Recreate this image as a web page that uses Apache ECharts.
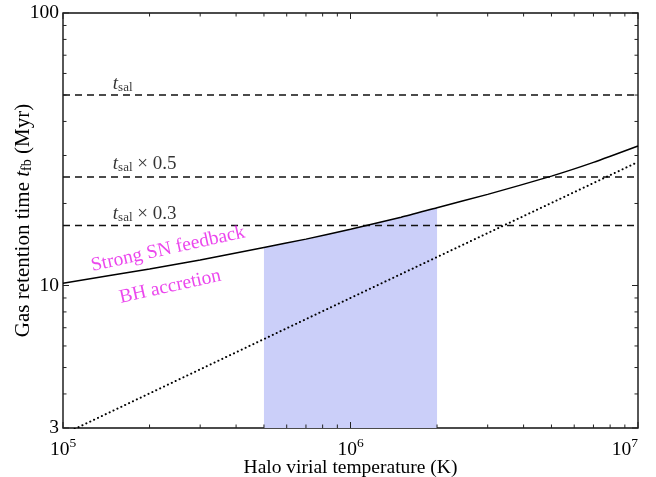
<!DOCTYPE html>
<html>
<head>
<meta charset="utf-8">
<script src="https://cdn.jsdelivr.net/npm/echarts@6/dist/echarts.min.js"></script>
<style>
html,body{margin:0;padding:0;background:#fff;}
#chart{width:656px;height:477px;}
</style>
</head>
<body>
<div id="chart"></div>
<script>
// ---- data ----
const xRange = [1e5, 1e7];
const yRange = [3, 100];
const temps = [1e5, 2e5, 3e5, 5e5, 7e5, 1e6, 1.5e6, 2e6, 3e6, 5e6, 7e6, 1e7];
const tFeedback = [10.2, 11.5, 12.4, 13.8, 14.8, 16.1, 17.8, 19.3, 21.6, 25.2, 28.3, 32.5];
const accretionTemps = [1e5, 1e6, 1e7];
const tAccretion = [2.84, 9.0, 28.4];
const salLevels = [50, 25, 16.6];
const salSuffix = ['', ' × 0.5', ' × 0.3'];
const bandRange = [5e5, 2e6];
const xMajorTicks = [1e5, 1e6, 1e7];
const xMinorTicks = [2e5, 3e5, 4e5, 5e5, 6e5, 7e5, 8e5, 9e5, 2e6, 3e6, 4e6, 5e6, 6e6, 7e6, 8e6, 9e6];
const yMajorTicks = [3, 10, 100];
const yMinorTicks = [4, 5, 6, 7, 8, 9, 20, 30, 40, 50, 60, 70, 80, 90];
const yTickLabels = ['3', '10', '100'];

// ---- chart ----
const FONT = '"Liberation Serif", "DejaVu Serif", serif';
const INK = '#000';
const MAGENTA = '#e619e8';

const feedbackData = temps.map((t, i) => [t, tFeedback[i]]);
const bandData = feedbackData.filter(p => p[0] >= bandRange[0] && p[0] <= bandRange[1]);
const accretionData = accretionTemps.map((t, i) => [t, tAccretion[i]]);

const xTickData = xMajorTicks.map(t => [t, 1]).concat(xMinorTicks.map(t => [t, 0]));
const yTickData = yMajorTicks.map(v => [v, 1]).concat(yMinorTicks.map(v => [v, 0]));
const MAJOR_LEN = 6, MINOR_LEN = 3.5;

const tickStyle = {stroke: '#222', lineWidth: 1};

const salSeries = salLevels.map((lv, i) => ({
  type: 'line', data: [[xRange[0], lv], [xRange[1], lv]], symbol: 'none', silent: true,
  lineStyle: {color: '#111', width: 1.4, type: [7, 5]}, z: 3
}));

const textRich = {
  it: {fontFamily: FONT, fontStyle: 'italic', fontSize: 19, color: INK, verticalAlign: 'bottom', lineHeight: 22},
  sub: {fontFamily: FONT, fontSize: 13, color: INK, verticalAlign: 'bottom', lineHeight: 16},
  n: {fontFamily: FONT, fontSize: 19, color: INK, verticalAlign: 'bottom', lineHeight: 22}
};

const annot = [
  {value: [1.49e5, 55.5], text: '{it|t}{sub|sal}' + (salSuffix[0] ? '{n|' + salSuffix[0] + '}' : '')},
  {value: [1.49e5, 28.2], text: '{it|t}{sub|sal}{n|' + salSuffix[1] + '}'},
  {value: [1.49e5, 18.5], text: '{it|t}{sub|sal}{n|' + salSuffix[2] + '}'}
];

const option = {
  animation: false,
  backgroundColor: '#fff',
  grid: {left: 63, right: 18, top: 13, bottom: 49, containLabel: false, outerBoundsMode: 'none',
    show: true, borderColor: '#111', borderWidth: 1.4, backgroundColor: 'transparent'},
  xAxis: {
    type: 'log', logBase: 10, min: xRange[0], max: xRange[1],
    axisLine: {show: false}, axisTick: {show: false}, splitLine: {show: false}, minorTick: {show: false},
    axisLabel: {
      margin: 8, alignMaxLabel: 'right',
      formatter: v => '{b|10}{s|' + Math.round(Math.log10(v)) + '}',
      rich: {
        b: {fontFamily: FONT, fontSize: 19.5, color: INK, verticalAlign: 'bottom', lineHeight: 24},
        s: {fontFamily: FONT, fontSize: 13.5, color: INK, verticalAlign: 'top', lineHeight: 24}
      }
    },
    name: 'Halo virial temperature (K)', nameLocation: 'middle', nameGap: 30, nameMoveOverlap: false,
    nameTextStyle: {fontFamily: FONT, fontSize: 19.5, color: INK}
  },
  yAxis: {
    type: 'log', logBase: 10, min: yRange[0], max: yRange[1],
    axisLine: {show: false}, axisTick: {show: false}, splitLine: {show: false}, minorTick: {show: false},
    axisLabel: {
      margin: 4, fontFamily: FONT, fontSize: 19.5, color: INK,
      formatter: v => { const i = yMajorTicks.findIndex(m => Math.abs(m - v) / m < 1e-6); return i >= 0 ? yTickLabels[i] : ''; }
    },
    name: '{n|Gas retention time }{it|t}{sub|fb}{n| (Myr)}', nameLocation: 'middle', nameGap: 29, nameRotate: 90, nameMoveOverlap: false,
    nameTextStyle: {
      rich: {
        n: {fontFamily: FONT, fontSize: 21, color: INK, verticalAlign: 'bottom', lineHeight: 24},
        it: {fontFamily: FONT, fontStyle: 'italic', fontSize: 21, color: INK, verticalAlign: 'bottom', lineHeight: 24},
        sub: {fontFamily: FONT, fontSize: 14, color: INK, verticalAlign: 'bottom', lineHeight: 18}
      }
    }
  },
  series: [
    {
      type: 'line', data: bandData, symbol: 'none', silent: true,
      lineStyle: {width: 0, opacity: 0},
      areaStyle: {color: '#cbcff9', opacity: 1, origin: 'start'}, z: 1
    },
    ...salSeries,
    {
      type: 'line', data: accretionData, symbol: 'none', silent: true,
      lineStyle: {color: '#000', width: 2, type: [0.1, 4.2], cap: 'round'}, z: 4
    },
    {
      type: 'line', data: feedbackData, symbol: 'none', silent: true, smooth: 0.2,
      lineStyle: {color: '#000', width: 1.5}, z: 5
    },
    {
      type: 'custom', coordinateSystem: 'cartesian2d', silent: true, z: 6, clip: false,
      data: xTickData,
      encode: {x: 0},
      renderItem: (params, api) => {
        const x = api.value(0);
        const len = api.value(1) ? MAJOR_LEN : MINOR_LEN;
        const b = api.coord([x, yRange[0]]);
        const t = api.coord([x, yRange[1]]);
        return {type: 'group', children: [
          {type: 'line', shape: {x1: b[0], y1: b[1], x2: b[0], y2: b[1] - len}, style: tickStyle},
          {type: 'line', shape: {x1: t[0], y1: t[1], x2: t[0], y2: t[1] + len}, style: tickStyle}
        ]};
      }
    },
    {
      type: 'custom', coordinateSystem: 'cartesian2d', silent: true, z: 6, clip: false,
      data: yTickData.map(d => [xRange[0], d[0], d[1]]),
      encode: {x: 0, y: 1},
      renderItem: (params, api) => {
        const v = api.value(1);
        const len = api.value(2) ? MAJOR_LEN : MINOR_LEN;
        const l = api.coord([xRange[0], v]);
        const r = api.coord([xRange[1], v]);
        return {type: 'group', children: [
          {type: 'line', shape: {x1: l[0], y1: l[1], x2: l[0] + len, y2: l[1]}, style: tickStyle},
          {type: 'line', shape: {x1: r[0], y1: r[1], x2: r[0] - len, y2: r[1]}, style: tickStyle}
        ]};
      }
    },
    {
      type: 'scatter', symbolSize: 0, silent: true, z: 7,
      data: annot.map(a => ({
        value: a.value,
        label: {show: true, position: [0, 0], align: 'left', verticalAlign: 'middle', formatter: a.text, rich: textRich}
      }))
    },
    {
      type: 'scatter', symbolSize: 0, silent: true, z: 7,
      data: [
        {value: [2.32e5, 13.6], label: {show: true, position: [0, 0], align: 'center', verticalAlign: 'middle', rotate: 12.5,
          formatter: 'Strong SN feedback', fontFamily: FONT, fontSize: 19.5, color: MAGENTA}},
        {value: [2.36e5, 9.9], label: {show: true, position: [0, 0], align: 'center', verticalAlign: 'middle', rotate: 12.5,
          formatter: 'BH accretion', fontFamily: FONT, fontSize: 19.5, color: MAGENTA}}
      ]
    }
  ]
};

const chart = echarts.init(document.getElementById('chart'), null, {renderer: 'canvas'});
chart.setOption(option);
</script>
</body>
</html>
